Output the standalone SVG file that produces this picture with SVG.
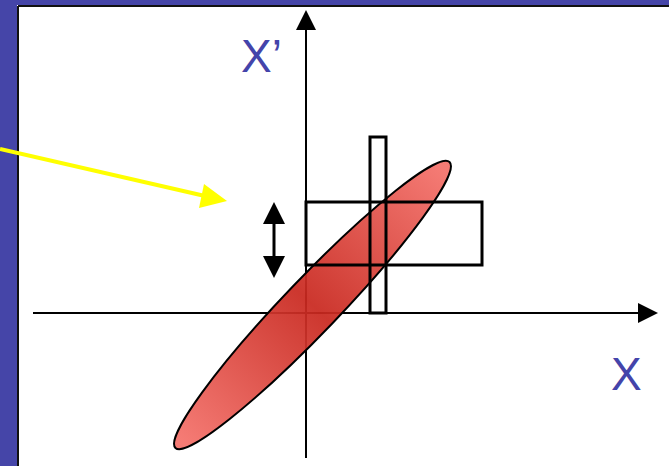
<svg xmlns="http://www.w3.org/2000/svg" width="669" height="466" viewBox="0 0 669 466">
<style>
.frame{fill:#4545A8}
.axis{stroke:#000;stroke-width:2;fill:none}
.box{stroke:#000;stroke-width:3;fill:none}
.lbl{font-family:"Liberation Sans",Arial,sans-serif;font-size:46px;fill:#4444AA}
</style>
<defs>
<linearGradient id="rg" gradientUnits="userSpaceOnUse" x1="124.5" y1="305" x2="500.5" y2="305">
<stop offset="0" stop-color="#F4716A"/>
<stop offset="0.5" stop-color="#C9281F"/>
<stop offset="1" stop-color="#F4716A"/>
</linearGradient>
</defs>
<rect width="669" height="466" fill="#fff"/>
<g id="frame">
<rect class="frame" x="0" y="0" width="669" height="5"/>
<rect class="frame" x="0" y="0" width="17" height="466"/>
<line x1="18" y1="6" x2="669" y2="6" stroke="#111" stroke-width="2"/>
<line x1="18" y1="6" x2="18" y2="466" stroke="#111" stroke-width="2"/>
</g>
<g id="axes">
<line class="axis" x1="306" y1="458" x2="306" y2="28"/>
<polygon points="306,10 296,30 316,30" fill="#000"/>
<line class="axis" x1="33" y1="313" x2="640" y2="313"/>
<polygon points="658,313 638,303 638,323" fill="#000"/>
</g>
<g id="ellipse">
<ellipse cx="312.5" cy="305" rx="198" ry="27" transform="rotate(-46.2 312.5 305)" fill="url(#rg)" fill-opacity="0.93" stroke="#000" stroke-width="2"/>
</g>
<g id="rect-tall"><rect class="box" x="370" y="137" width="16" height="176"/></g>
<g id="rect-wide"><rect class="box" x="306" y="202" width="176" height="63"/></g>
<g id="connectors">
<line x1="274" y1="220" x2="274" y2="260" stroke="#000" stroke-width="3"/>
<polygon points="274,202 263,224 285,224" fill="#000"/>
<polygon points="274,278 263,256 285,256" fill="#000"/>
<line x1="0" y1="149" x2="205" y2="196" stroke="#FFFF00" stroke-width="4"/>
<polygon points="227,201 199,208 204,184" fill="#FFFF00"/>
</g>
<g id="labels">
<text class="lbl" x="241" y="72">X’</text>
<text class="lbl" x="611" y="390">X</text>
</g>
</svg>
